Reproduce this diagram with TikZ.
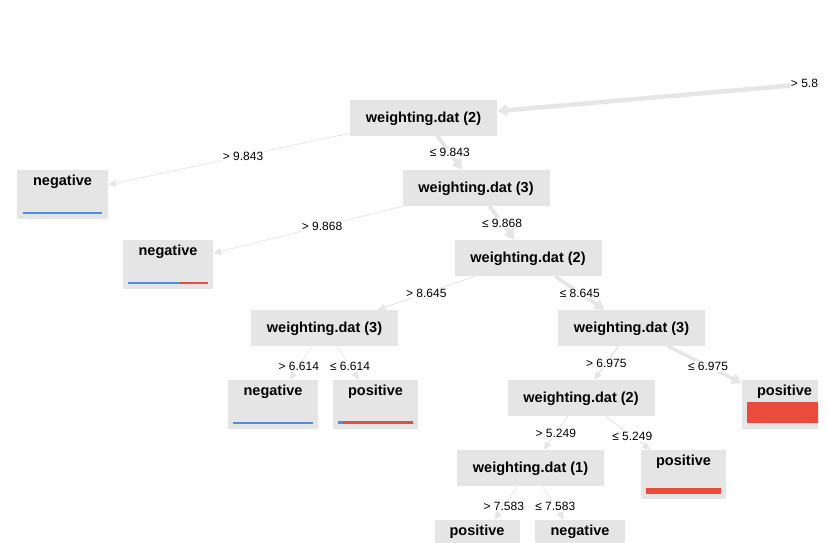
\documentclass[tikz,border=0pt]{standalone}
\usepackage{fontspec}
\setmainfont{Liberation Sans}
\usetikzlibrary{arrows.meta}
\definecolor{boxgray}{HTML}{E5E5E5}
\definecolor{edgegray}{HTML}{E6E6E6}
\definecolor{barblue}{HTML}{4A90E2}
\definecolor{barred}{HTML}{E74C3C}
\begin{document}
\begin{tikzpicture}[x=1pt,y=-1pt,
  inner/.style={fill=boxgray, minimum width=147pt, minimum height=36pt, inner sep=0pt,
    font=\fontsize{14.5}{16}\selectfont\bfseries, text height=10.5pt, text depth=1.5pt},
  leafbox/.style={fill=boxgray, minimum height=49pt, inner sep=0pt},
  posbox/.style={leafbox, minimum width=85pt},
  negbox/.style={leafbox, minimum width=90pt},
  leaftxt/.style={font=\fontsize{14.5}{16}\selectfont\bfseries, anchor=base, inner sep=0pt},
  edge/.style={draw=edgegray, line width=#1, -{Triangle[length=8pt,width=7pt]}},
  thickedge/.style={draw=edgegray, line width=#1, -{Triangle[length=10pt,width=11pt]}},
  lbl/.style={fill=white, inner sep=1pt, font=\fontsize{12}{14}\selectfont}
]
\useasboundingbox (0,0) rectangle (827,543);
\begin{scope}
\clip (0,0) rectangle (818,543);

% internal nodes
\node[inner] (wd2a) at (423.5,117.5) {weighting.dat (2)};
\node[inner] (wd3a) at (476,188) {weighting.dat (3)};
\node[inner] (wd2b) at (528,258) {weighting.dat (2)};
\node[inner] (wd3b) at (324.5,328) {weighting.dat (3)};
\node[inner] (wd3c) at (631.5,328) {weighting.dat (3)};
\node[inner] (wd2c) at (581,398) {weighting.dat (2)};
\node[inner] (wd1) at (530.5,468) {weighting.dat (1)};
\coordinate (root) at (1199,50);

% leaves
\node[negbox, minimum width=91pt] (neg1) at (62.5,194.5) {};
\node[negbox] (neg2) at (168,264.5) {};
\node[negbox] (neg3) at (273,404.5) {};
\node[posbox] (pos1) at (375.5,404.5) {};
\node[posbox] (posbig) at (784.5,404.5) {};
\node[posbox] (pos2) at (683.5,474.5) {};
\node[posbox] (pos3) at (477,544.5) {};
\node[negbox] (neg4) at (580,544.5) {};

\node[leaftxt] at ([yshift=-15.5pt]neg1.north) {negative};
\node[leaftxt] at ([yshift=-15.5pt]neg2.north) {negative};
\node[leaftxt] at ([yshift=-15.5pt]neg3.north) {negative};
\node[leaftxt] at ([yshift=-15.5pt]pos1.north) {positive};
\node[leaftxt] at ([yshift=-15.5pt]posbig.north) {positive};
\node[leaftxt] at ([yshift=-15.5pt]pos2.north) {positive};
\node[leaftxt] at ([yshift=-15.5pt]pos3.north) {positive};
\node[leaftxt] at ([yshift=-15.5pt]neg4.north) {negative};

% bars
\fill[barblue] (23,212) rectangle (102,214);
\fill[barblue] (128,282) rectangle (180,284);
\fill[barred] (180,282) rectangle (208,284);
\fill[barblue] (233,421.5) rectangle (313,424);
\fill[barblue] (338,421) rectangle (343,424);
\fill[barred] (343,421) rectangle (413,424);
\fill[barred] (746.5,402) rectangle (822,423);
\fill[barred] (645.5,488) rectangle (721,494);

% edges
\draw[thickedge=4.5pt] (root) -- (wd2a);
\draw[edge=0.8pt] (wd2a) -- (neg1);
\draw[thickedge=4pt] (wd2a) -- (wd3a);
\draw[edge=0.8pt] (wd3a) -- (neg2);
\draw[thickedge=4pt] (wd3a) -- (wd2b);
\draw[edge=1pt] (wd2b) -- (wd3b);
\draw[thickedge=3.8pt] (wd2b) -- (wd3c);
\draw[edge=0.7pt] (wd3b) -- (neg3);
\draw[edge=0.7pt] (wd3b) -- (pos1);
\draw[edge=1.5pt] (wd3c) -- (wd2c);
\draw[thickedge=3.5pt] (wd3c) -- (posbig);
\draw[edge=1pt] (wd2c) -- (wd1);
\draw[edge=1pt] (wd2c) -- (pos2);
\draw[edge=0.8pt] (wd1) -- (pos3);
\draw[edge=0.8pt] (wd1) -- (neg4);

% labels
\path (root) -- node[lbl, anchor=west, xshift=-21.5pt] {> 5.8} (wd2a.center);
\path (wd2a.center) -- node[lbl] {> 9.843} (neg1.center);
\path (wd2a.center) -- node[lbl] {≤ 9.843} (wd3a.center);
\path (wd3a.center) -- node[lbl] {> 9.868} (neg2.center);
\path (wd3a.center) -- node[lbl] {≤ 9.868} (wd2b.center);
\path (wd2b.center) -- node[lbl] {> 8.645} (wd3b.center);
\path (wd2b.center) -- node[lbl] {≤ 8.645} (wd3c.center);
\path (wd3b.center) -- node[lbl] {> 6.614} (neg3.center);
\path (wd3b.center) -- node[lbl] {≤ 6.614} (pos1.center);
\path (wd3c.center) -- node[lbl] {> 6.975} (wd2c.center);
\path (wd3c.center) -- node[lbl] {≤ 6.975} (posbig.center);
\path (wd2c.center) -- node[lbl] {> 5.249} (wd1.center);
\path (wd2c.center) -- node[lbl] {≤ 5.249} (pos2.center);
\path (wd1.center) -- node[lbl] {> 7.583} (pos3.center);
\path (wd1.center) -- node[lbl] {≤ 7.583} (neg4.center);
\end{scope}
\end{tikzpicture}
\end{document}
